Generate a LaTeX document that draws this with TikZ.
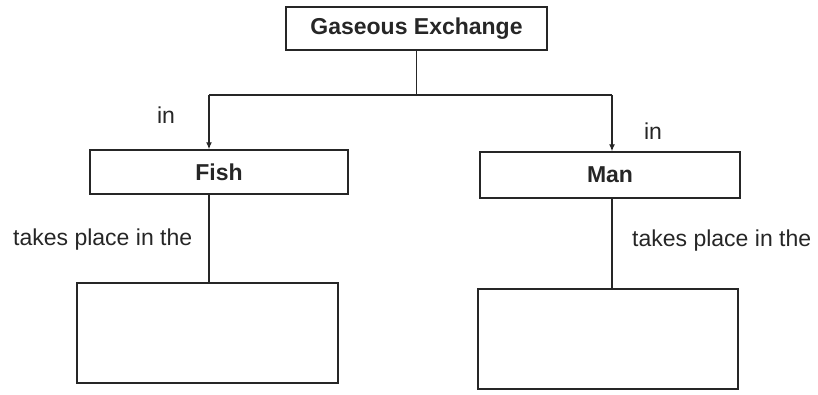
\documentclass[tikz,border=0pt]{standalone}
\usepackage{fontspec}
\setmainfont{Liberation Sans}
\usetikzlibrary{arrows.meta}
\tikzset{
  boxstyle/.style={draw=black!85, line width=1.4pt, inner sep=0pt, font=\fontsize{23}{27}\selectfont\bfseries, text=black!85},
  emptybox/.style={draw=black!85, line width=1.4pt, inner sep=0pt},
  lbl/.style={inner sep=0pt, font=\fontsize{23}{27}\selectfont, text=black!85},
  conn/.style={draw=black!85, line width=1.3pt},
  arr/.style={conn, -{Latex[length=7pt,width=6pt]}}
}
\begin{document}
\begin{tikzpicture}[x=1pt,y=-1pt]
\useasboundingbox (0,0) rectangle (818,394);
\node[boxstyle, minimum width=261pt, minimum height=43pt] (ge) at (416.5,28.5) {Gaseous Exchange};
\node[boxstyle, minimum width=258pt, minimum height=44pt] (fish) at (219,172) {Fish};
\node[boxstyle, minimum width=260pt, minimum height=46pt] (man) at (610,175) {Man};
\node[emptybox, minimum width=261pt, minimum height=100pt] (fbox) at (207.5,333) {};
\node[emptybox, minimum width=260pt, minimum height=100pt] (mbox) at (608,339) {};
\coordinate (jl) at (209,95);
\coordinate (jr) at (612,95);
\draw[conn] (ge.south) -- (ge.south |- jl);
\draw[conn] (jl) -- (jr);
\draw[arr] (jl) -- (jl |- fish.north);
\draw[arr] (jr) -- (jr |- man.north);
\draw[conn] (jl |- fish.south) -- (jl |- fbox.north);
\draw[conn] (jr |- man.south) -- (jr |- mbox.north);
\node[lbl, anchor=base] (in1) at (166,123) {in};
\node[lbl, anchor=base] (in2) at (653,139) {in};
\node[lbl, anchor=base west] (tp1) at (13,245) {takes place in the};
\node[lbl, anchor=base west] (tp2) at (632,246) {takes place in the};
\end{tikzpicture}
\end{document}
